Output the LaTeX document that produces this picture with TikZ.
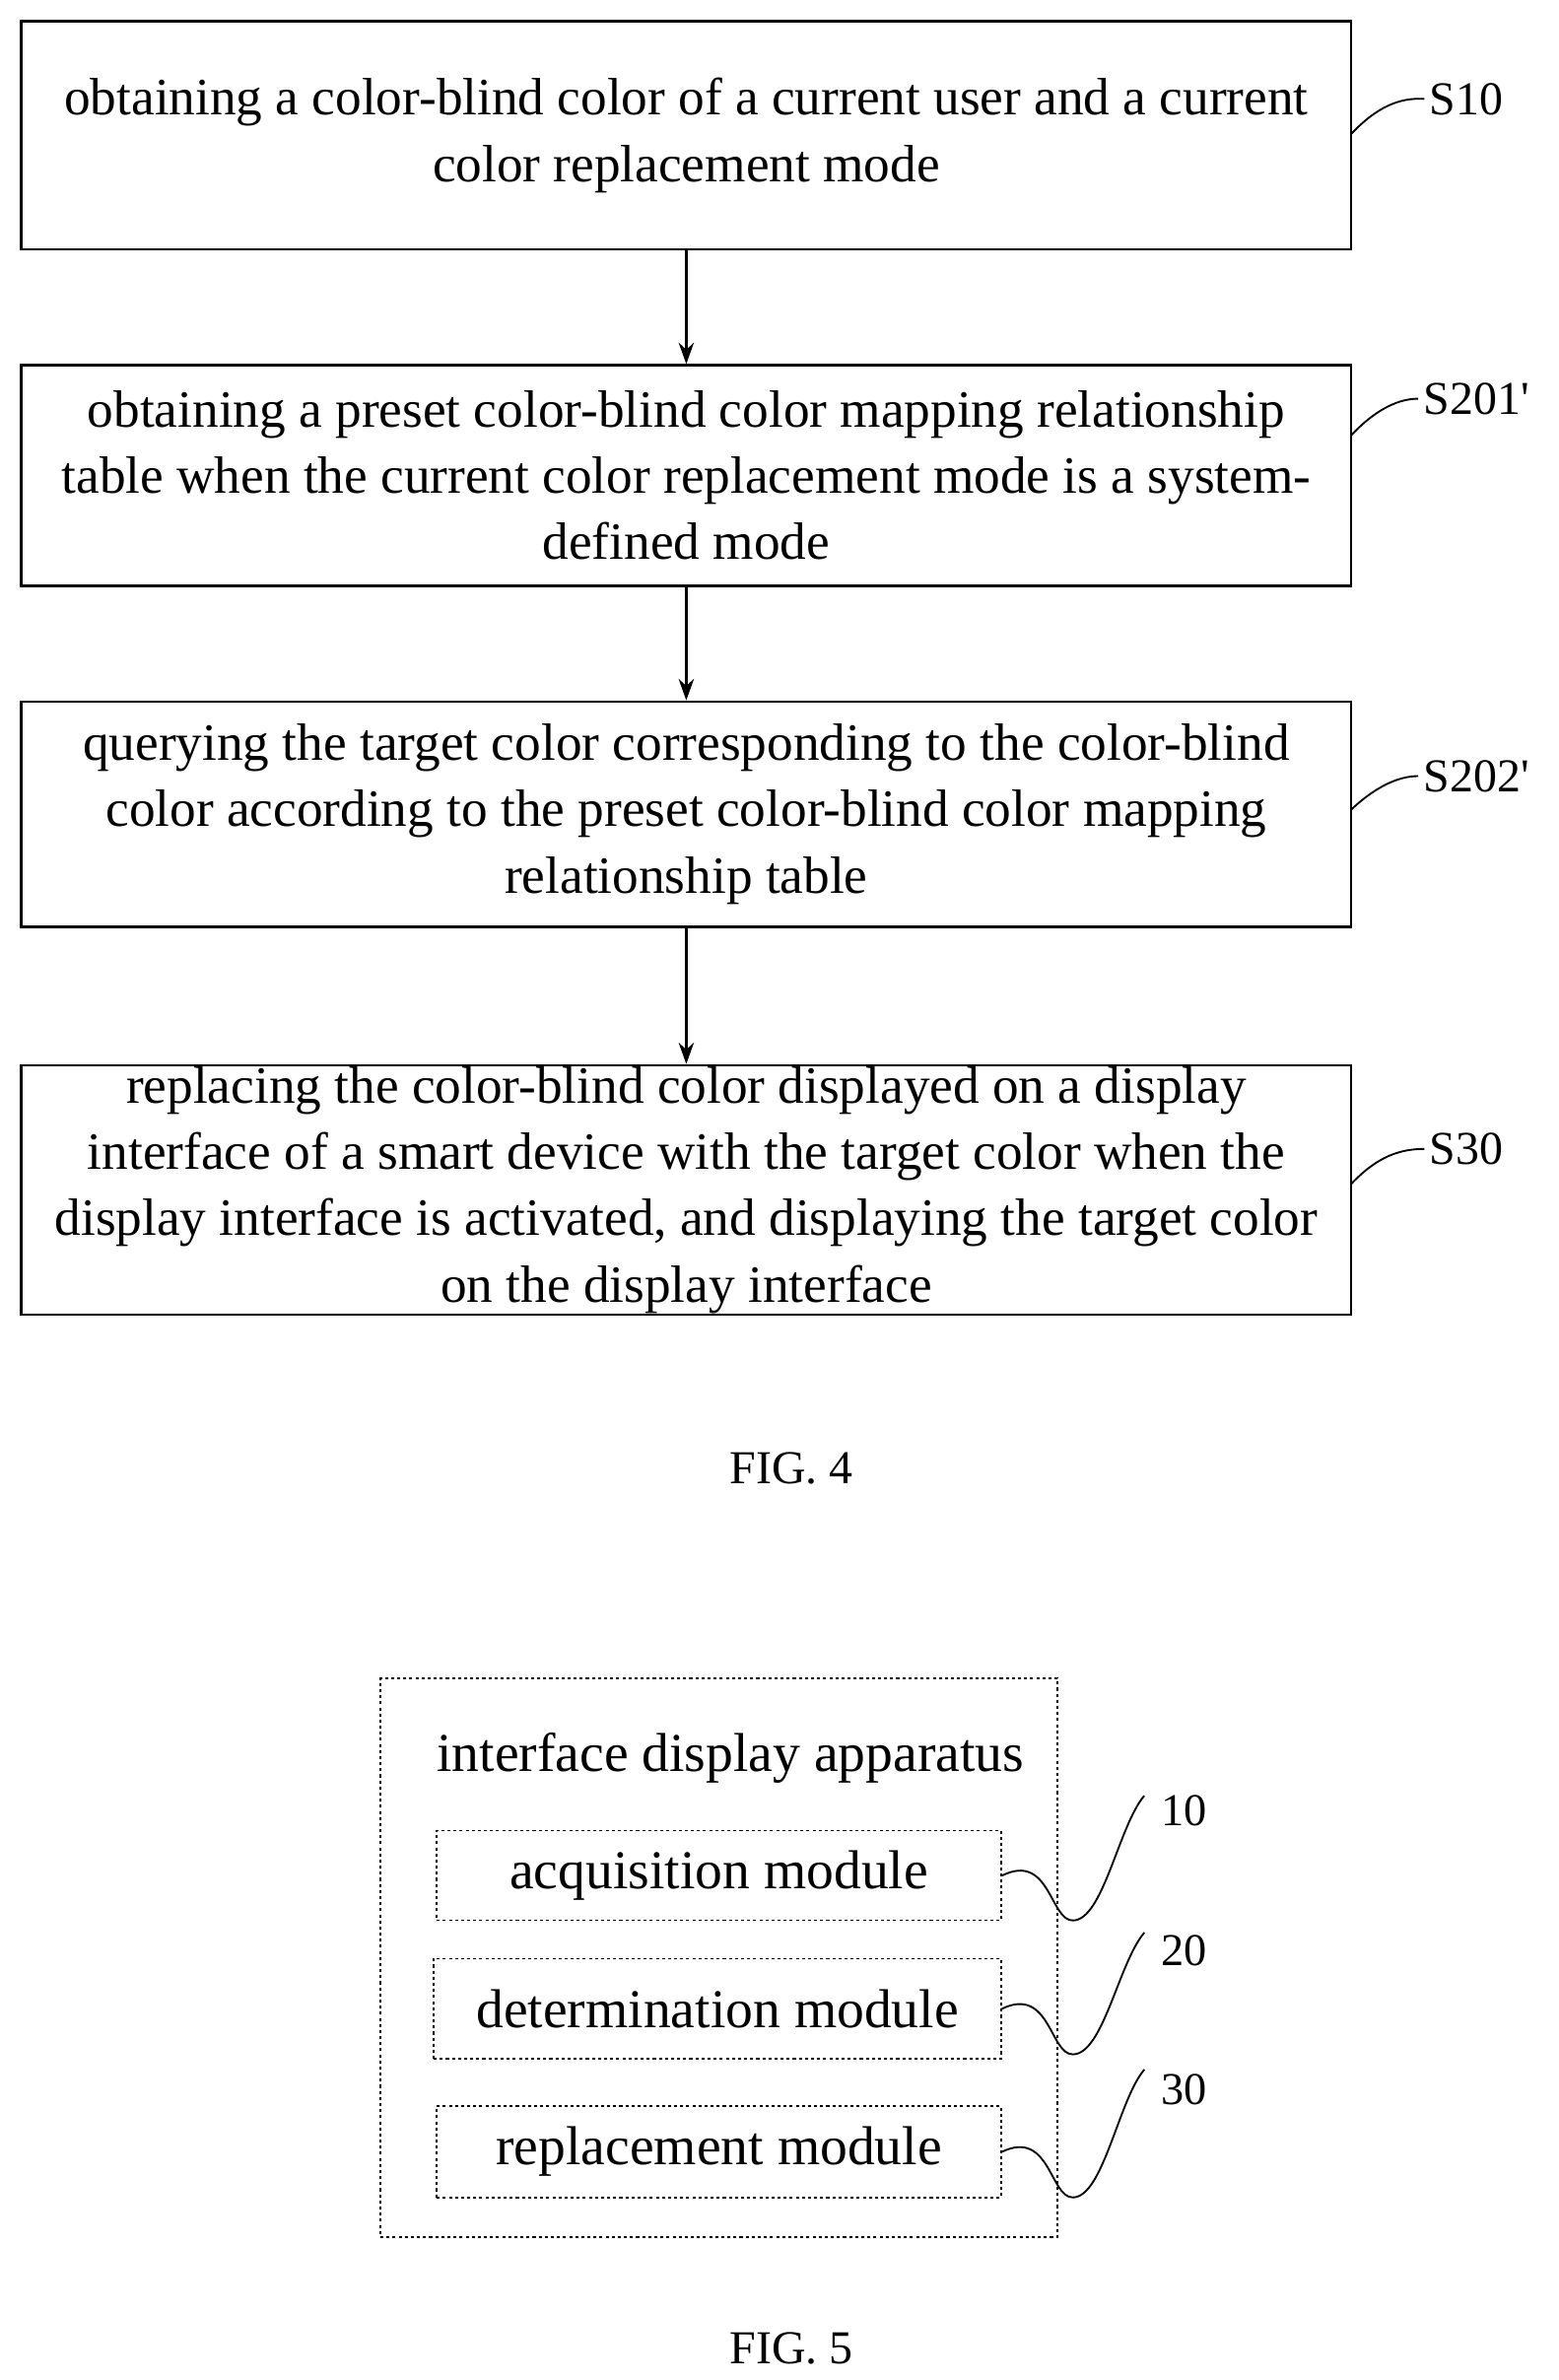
\documentclass[tikz,border=0pt]{standalone}
\usepackage{fontspec}
\setmainfont{Liberation Serif}
\usetikzlibrary{arrows.meta}
\begin{document}
\begin{tikzpicture}[x=1pt,y=-1pt,
 box/.style={draw,line width=1.6pt,inner sep=0pt},
 txt/.style={align=center,font=\fontsize{34.5}{43.5}\selectfont},
 arr/.style={-{Stealth[length=14pt,width=10pt]},line width=1.8pt},
 lab/.style={font=\fontsize{31}{34}\selectfont,anchor=west},
 mod/.style={dbox,font=\fontsize{36}{40}\selectfont},
 dbox/.style={draw,dash pattern=on 2pt off 2pt,line width=1pt},
 lead/.style={line width=1.2pt}]
\useasboundingbox (0,0) rectangle (1024,1564);
\node[box,minimum width=874pt,minimum height=150pt] (b1) at (451,89) {};
\node[txt] at (b1) {obtaining a color-blind color of a current user and a current\\color replacement mode};
\node[box,minimum width=874pt,minimum height=145pt] (b2) at (451,312.5) {};
\node[txt] at (b2) {obtaining a preset color-blind color mapping relationship\\table when the current color replacement mode is a system-\\defined mode};
\node[box,minimum width=874pt,minimum height=148pt] (b3) at (451,535) {};
\node[txt] at (b3) {querying the target color corresponding to the color-blind\\color according to the preset color-blind color mapping\\relationship table};
\node[box,minimum width=874pt,minimum height=164pt] (b4) at (451,782) {};
\node[txt] at (b4) {replacing the color-blind color displayed on a display\\interface of a smart device with the target color when the\\display interface is activated, and displaying the target color\\on the display interface};
\draw[arr] (b1.south) -- (b2.north);
\draw[arr] (b2.south) -- (b3.north);
\draw[arr] (b3.south) -- (b4.north);
\node[lab] (l1) at (936,65) {S10};
\node[lab] (l2) at (932,262) {S201\textquotesingle};
\node[lab] (l3) at (932,510) {S202\textquotesingle};
\node[lab] (l4) at (936,755) {S30};
\draw[lead] (888,88) .. controls (905,70) and (920,64) .. (l1.west);
\draw[lead] (888,286) .. controls (905,268) and (920,262) .. (l2.west);
\draw[lead] (888,532) .. controls (905,516) and (920,510) .. (l3.west);
\draw[lead] (888,778) .. controls (905,760) and (920,755) .. (l4.west);
\node[font=\fontsize{31}{34}\selectfont] (f4) at (520,965) {FIG. 4};
\node[dbox,minimum width=445pt,minimum height=367pt] (outer) at (472.5,1286.5) {};
\node[font=\fontsize{36}{40}\selectfont] (title) at (480,1155) {interface display apparatus};
\node[mod,minimum width=371pt,minimum height=59pt] (m1) at (472.5,1232.5) {acquisition module};
\node[mod,minimum width=373pt,minimum height=66pt] (m2) at (471.5,1320) {determination module};
\node[mod,minimum width=371pt,minimum height=60pt] (m3) at (472.5,1414) {replacement module};
\node[font=\fontsize{30}{34}\selectfont] (n1) at (778,1190) {10};
\node[font=\fontsize{30}{34}\selectfont] (n2) at (778,1282) {20};
\node[font=\fontsize{30}{34}\selectfont] (n3) at (778,1373) {30};
\foreach \m/\y/\t in {m1/1232/1200,m2/1320/1290,m3/1414/1380}{
 \draw[lead] (\m.east) .. controls (690,\y-15) and (690,\y+30) .. (705,\y+30) .. controls (725,\y+30) and (735,\t) .. (752,\t-20);
}
\node[font=\fontsize{31}{34}\selectfont] (f5) at (520,1543) {FIG. 5};
\end{tikzpicture}
\end{document}
